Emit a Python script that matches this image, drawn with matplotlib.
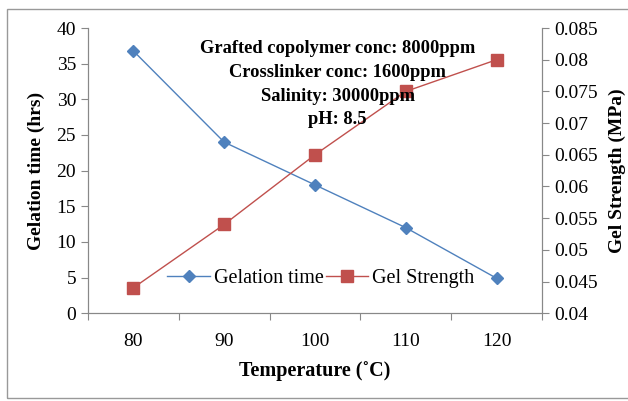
import numpy as np
import matplotlib.pyplot as plt
from matplotlib.patches import Rectangle

temps = ['80', '90', '100', '110', '120']
gel_time = [36.8, 24, 18, 12, 4.9]
gel_strength = [0.044, 0.054, 0.065, 0.075, 0.080]

plt.rcParams['font.family'] = 'Liberation Serif'

fig = plt.figure(figsize=(6.28, 4.01), dpi=100)
ax = fig.add_axes([0.140, 0.219, 0.723, 0.711])
ax2 = ax.twinx()

x = np.arange(1, len(temps) + 1)
blue = '#4f81bd'
red = '#c0504d'
l1, = ax.plot(x, gel_time, color=blue, lw=1, marker='D', ms=6, label='Gelation time')
l2, = ax2.plot(x, gel_strength, color=red, lw=1, marker='s', ms=8, label='Gel Strength')

ax.set_xlim(0.5, 5.5)
ax.set_ylim(0, 40)
ax.set_yticks(range(0, 41, 5))
ax2.set_ylim(0.04, 0.085)
ax2.set_yticks(np.arange(0.04, 0.0851, 0.005))
ax2.set_yticklabels(['0.04', '0.045', '0.05', '0.055', '0.06', '0.065', '0.07', '0.075', '0.08', '0.085'])

ax.set_xticks(np.arange(0.5, 5.6, 1))
ax.set_xticklabels([])
ax.set_xticks(x, minor=True)
ax.set_xticklabels(temps, minor=True)
ax.tick_params(axis='x', which='minor', length=0, pad=14)
ax.tick_params(axis='x', which='major', length=5, color='#888888')

for a in (ax, ax2):
    for s in a.spines.values():
        s.set_color('#888888')
    a.spines['top'].set_visible(False)
    a.tick_params(axis='y', labelsize=14, length=5, color='#888888')
ax.tick_params(axis='x', which='minor', labelsize=14)

ax.set_xlabel('Temperature (˚C)', fontsize=14.5, fontweight='bold', labelpad=8)
ax.set_ylabel('Gelation time (hrs)', fontsize=14, fontweight='bold', labelpad=8)
ax2.set_ylabel('Gel Strength (MPa)', fontsize=14, fontweight='bold', rotation=90, labelpad=8)

# conditions box sits on top of the lines
ax2.text(0.55, 0.958, 'Grafted copolymer conc: 8000ppm\nCrosslinker conc: 1600ppm\nSalinity: 30000ppm\npH: 8.5',
         transform=ax2.transAxes, ha='center', va='top', fontsize=13.3, fontweight='bold',
         linespacing=1.52, zorder=5)

ax2.legend([l1, l2], ['Gelation time', 'Gel Strength'], loc='center',
           bbox_to_anchor=(0.513, 0.123), ncol=2, frameon=False, fontsize=14.5,
           handlelength=2.1, columnspacing=0.1, handletextpad=0.2)

fig.patches.append(Rectangle((0.011, 0.008), 1.2, 0.97, transform=fig.transFigure,
                             fill=False, edgecolor='#999999', lw=1))

fig.savefig('out.png', dpi=100)
